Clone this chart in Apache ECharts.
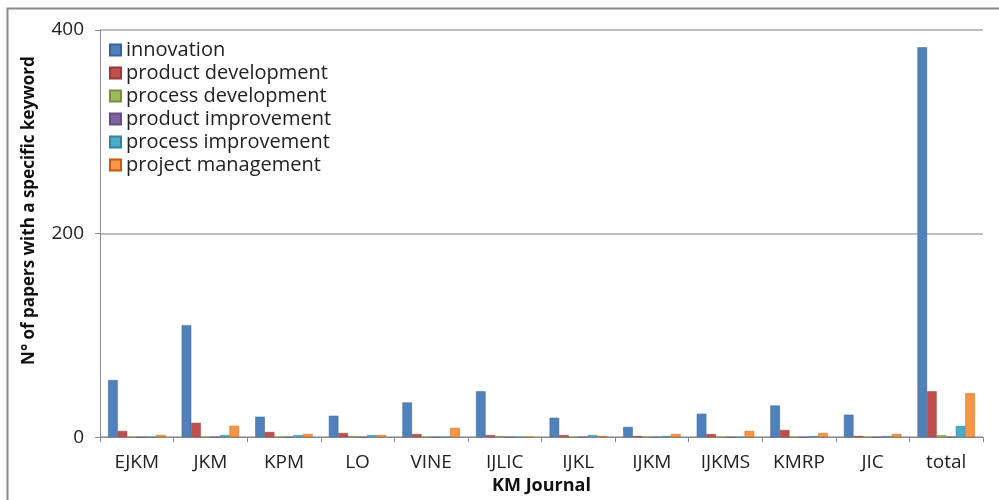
<!DOCTYPE html>
<html>
<head>
<meta charset="utf-8">
<script src="https://cdn.jsdelivr.net/npm/echarts@6/dist/echarts.min.js"></script>
<style>html,body{margin:0;padding:0;background:#fff}#c{width:999px;height:500px}</style>
</head>
<body>
<div id="c"></div>
<script>
var categories = ['EJKM','JKM','KPM','LO','VINE','IJLIC','IJKL','IJKM','IJKMS','KMRP','JIC','total'];
var seriesNames = ['innovation','product development','process development','product improvement','process improvement','project management'];
var innovation          = [56, 110, 20, 21, 34, 45, 19, 10, 23, 31, 22, 383];
var productDevelopment  = [6, 14, 5, 4, 3, 2, 2, 1, 3, 7, 1, 45];
var processDevelopment  = [0, 0, 0, 1, 0, 1, 0, 0, 0, 0, 0, 2];
var productImprovement  = [0, 0, 0, 0, 0, 0, 0, 0, 0, 0, 0, 0];
var processImprovement  = [0, 2, 2, 2, 0, 0, 2, 1, 0, 1, 1, 11];
var projectManagement   = [2, 11, 3, 2, 9, 0, 1, 3, 6, 4, 3, 43];
var yTicks = [0, 200, 400];

var colors = ['#4F81BD','#C0504D','#9BBB59','#8064A2','#4BACC6','#F79646'];
var allData = [innovation, productDevelopment, processDevelopment, productImprovement, processImprovement, projectManagement];
var FONT = 'Open Sans';

var chart = echarts.init(document.getElementById('c'), null, {renderer:'canvas'});
chart.setOption({
  animation: false,
  color: colors,
  textStyle: {fontFamily: FONT},
  graphic: [{
    type: 'rect', silent: true, z: -1,
    shape: {x: 7.5, y: 8.5, width: 1100, height: 600},
    style: {fill: 'none', stroke: '#8a8a8a', lineWidth: 2}
  }],
  legend: {
    orient: 'vertical', left: 104, top: 35,
    itemWidth: 11, itemHeight: 11, itemGap: 3,
    icon: 'rect',
    textStyle: {fontSize: 20, lineHeight: 20, color: '#222', fontFamily: FONT},
    data: seriesNames
  },
  grid: {left: 100, right: 16, top: 30, bottom: 58, containLabel: false},
  xAxis: {
    type: 'category', data: categories,
    name: 'KM Journal', nameLocation: 'middle', nameGap: 38,
    nameTextStyle: {fontWeight: 'bold', fontSize: 18, color: '#111', fontFamily: FONT},
    axisLine: {lineStyle: {color: '#888', width: 1}},
    axisTick: {show: true, length: 5, lineStyle: {color: '#888'}},
    axisLabel: {fontSize: 19, color: '#222', margin: 16, fontFamily: FONT}
  },
  yAxis: {
    type: 'value', min: 0, max: 400, interval: 200,
    name: 'N° of papers with a specific keyword', nameLocation: 'middle', nameGap: 62,
    nameTextStyle: {fontWeight: 'bold', fontSize: 17, color: '#111', fontFamily: FONT, padding: [0, 0, 0, 46]},
    axisLine: {show: true, lineStyle: {color: '#888'}},
    axisTick: {show: true, length: 5, lineStyle: {color: '#888'}},
    axisLabel: {fontSize: 19, color: '#222', margin: 16, fontFamily: FONT,
      formatter: function(v){ return yTicks.indexOf(v) >= 0 ? String(v) : ''; }},
    splitLine: {show: true, lineStyle: {color: '#a8a8a8', width: 1.5}}
  },
  series: seriesNames.map(function(n, i){
    return {
      name: n, type: 'bar', data: allData[i],
      barGap: '0%', barCategoryGap: '22%',
      itemStyle: {color: colors[i], borderColor: echarts.color.modifyHSL(colors[i], null, null, 0.4), borderWidth: 0.5}
    };
  })
});
</script>
</body>
</html>
